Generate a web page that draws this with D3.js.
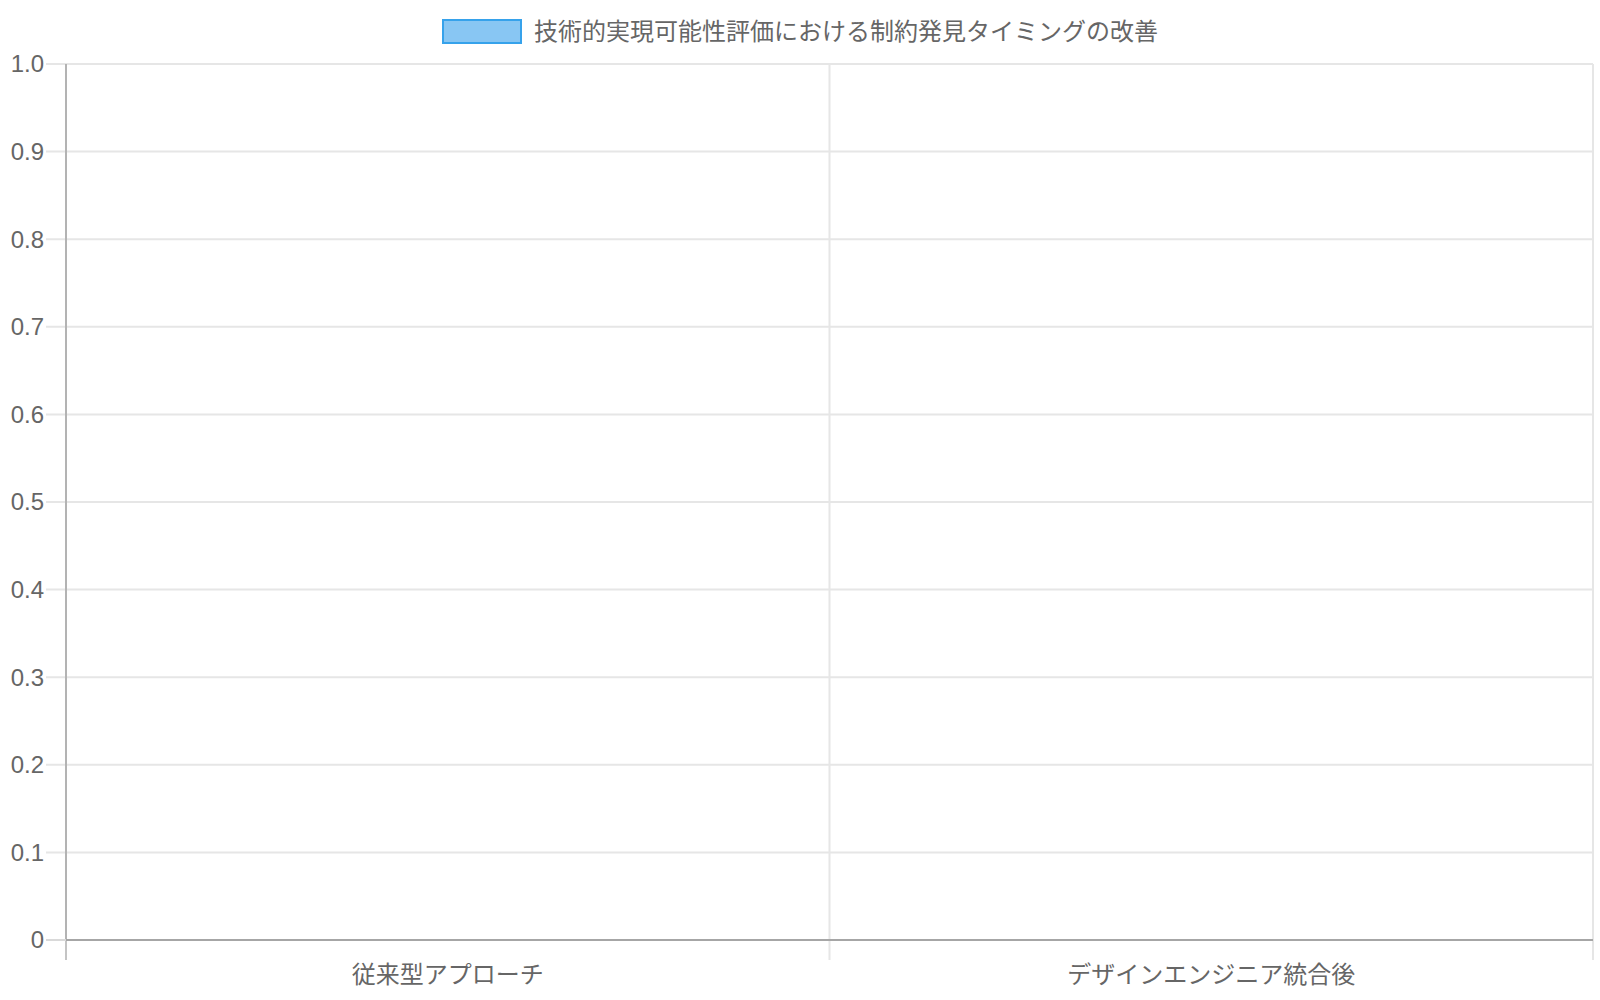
<!DOCTYPE html>
<html>
<head>
<meta charset="utf-8">
<script src="https://cdn.jsdelivr.net/npm/d3@7"></script>
<style>
  body { margin: 0; background: #fff; }
  text { font-family: "Liberation Sans", Arial, "Noto Sans CJK JP", sans-serif; fill: #666; }
</style>
</head>
<body>
<svg id="chart" width="1600" height="1000"></svg>
<script>
// data
const categories = ["従来型アプローチ", "デザインエンジニア統合後"];
const seriesName = "技術的実現可能性評価における制約発見タイミングの改善";
const seriesValues = [0, 0];
const yTicks = [0, 0.1, 0.2, 0.3, 0.4, 0.5, 0.6, 0.7, 0.8, 0.9, 1.0];
const yTickLabels = ["0", "0.1", "0.2", "0.3", "0.4", "0.5", "0.6", "0.7", "0.8", "0.9", "1.0"];

const chart = d3.select("#chart");
const plotLeft = 66, plotRight = 1593, plotTop = 64, plotBottom = 940;

// scales
let x = d3.scaleBand()
    .domain(categories)
    .range([plotLeft, plotRight])
    .paddingInner(0.2)
    .paddingOuter(0.1);
let xGrid = d3.scaleBand().domain(categories).range([plotLeft, plotRight]);

let y = d3.scaleLinear()
    .domain([0, 1])
    .range([plotBottom, plotTop]);

// horizontal grid
chart.append("g")
    .selectAll("line")
    .data(yTicks.filter(d => d !== 0))
    .enter()
    .append("line")
    .attr("x1", plotLeft - 20)
    .attr("x2", plotRight)
    .attr("y1", d => y(d))
    .attr("y2", d => y(d))
    .attr("stroke", "#e6e6e6")
    .attr("stroke-width", 2);

// vertical grid (band edges)
const edges = categories.map(c => xGrid(c)).concat([plotRight]);
chart.append("g")
    .selectAll("line")
    .data(edges)
    .enter()
    .append("line")
    .attr("x1", d => d)
    .attr("x2", d => d)
    .attr("y1", plotTop)
    .attr("y2", plotBottom + 20)
    .attr("stroke", (d, i) => i === 0 ? "#c4c4c4" : "#e6e6e6")
    .attr("stroke-width", 2);

// left axis line
chart.append("line")
    .attr("x1", plotLeft).attr("x2", plotLeft)
    .attr("y1", plotTop).attr("y2", plotBottom)
    .attr("stroke", "#b3b3b3")
    .attr("stroke-width", 2);

// zero tick
chart.append("line")
    .attr("x1", plotLeft - 20).attr("x2", plotLeft)
    .attr("y1", y(0)).attr("y2", y(0))
    .attr("stroke", "#d9d9d9")
    .attr("stroke-width", 2);

// y tick labels
chart.append("g")
    .selectAll("text")
    .data(yTicks)
    .enter()
    .append("text")
    .text((d, i) => yTickLabels[i])
    .attr("x", 44)
    .attr("y", d => y(d))
    .attr("dy", "0.35em")
    .attr("text-anchor", "end")
    .style("font-size", "24px");

// bars
chart.append("g")
    .selectAll("rect")
    .data(seriesValues)
    .enter()
    .append("rect")
    .attr("x", (d, i) => x(categories[i]))
    .attr("y", d => y(d))
    .attr("width", x.bandwidth())
    .attr("height", d => y(0) - y(d))
    .attr("fill", "rgba(54,162,235,0.6)")
    .attr("stroke", d => d === 0 ? "none" : "#36a2eb")
    .attr("stroke-width", 2);

// zero line
chart.append("line")
    .attr("x1", plotLeft).attr("x2", plotRight)
    .attr("y1", y(0)).attr("y2", y(0))
    .attr("stroke", "#a6a6a6")
    .attr("stroke-width", 2);

// category labels
chart.append("g")
    .selectAll("text")
    .data(categories)
    .enter()
    .append("text")
    .text(d => d)
    .attr("x", d => xGrid(d) + xGrid.bandwidth() / 2)
    .attr("y", 975)
    .attr("dy", "0.35em")
    .attr("text-anchor", "middle")
    .style("font-size", "24px");

// legend
const legend = chart.append("g");
const legendText = legend.append("text")
    .text(seriesName)
    .attr("y", 32)
    .attr("dy", "0.35em")
    .style("font-size", "24px");
const tw = legendText.node().getComputedTextLength();
const total = 80 + 12 + tw;
const lx = 800 - total / 2;
legendText.attr("x", lx + 92);
legend.append("rect")
    .attr("x", lx + 1)
    .attr("y", 20)
    .attr("width", 78)
    .attr("height", 23)
    .attr("fill", "#88c6f3")
    .attr("stroke", "#36a2eb")
    .attr("stroke-width", 2);
</script>
</body>
</html>
